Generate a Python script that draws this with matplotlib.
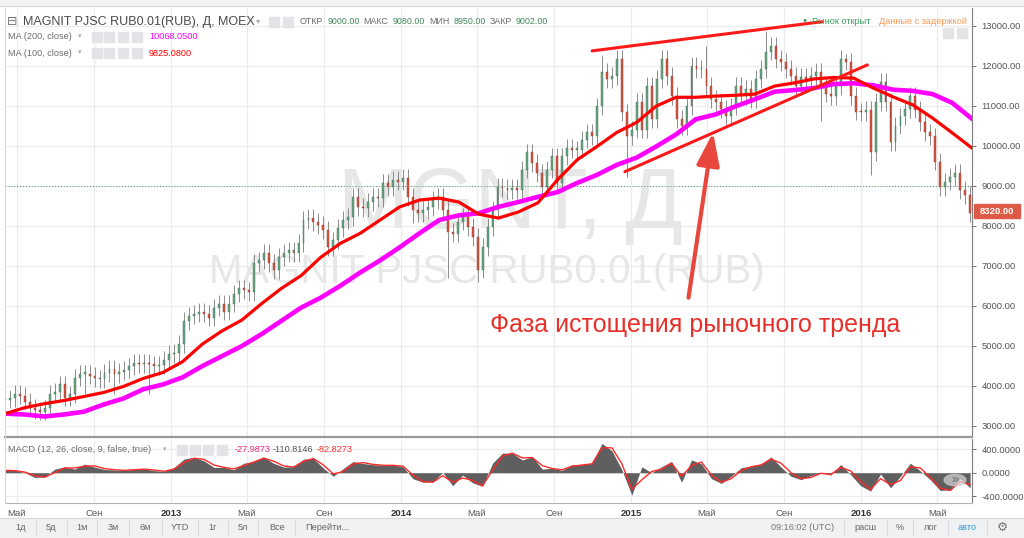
import matplotlib
matplotlib.use('Agg')
import matplotlib.pyplot as plt
import matplotlib.dates as mdates
import pandas as pd
from matplotlib.patches import Rectangle, Circle

plt.rcParams['font.family'] = ['Liberation Sans', 'DejaVu Sans']

# ---- data --------------------------------------------------------------
start, end = '2012-04-12', '2016-06-22'

# closes roughly every 8 days
closes = [3650, 3680, 3800, 3750, 3600, 3450, 3380, 3350, 3430, 3800,
          3850, 4030, 3700, 3780, 4200, 4300, 4300, 4250, 4180, 4160,
          4310, 4410, 4280, 4350, 4400, 4480, 4560, 4530, 4560, 4530,
          4490, 4520, 4650, 4790, 4810, 5040, 5620, 5750, 5800, 5850,
          5800, 5700, 5950, 6050, 5850, 6050, 6300, 6430, 6380, 6330,
          7060, 7130, 7310, 7060, 6880, 7210, 7310, 7380, 7310, 7560,
          8140, 8190, 8090, 8010, 7890, 7460, 7630, 7940, 8140, 8210,
          8720, 8470, 8440, 8590, 8720, 8690, 9070, 8970, 9150, 9100,
          9200, 8720, 8390, 8310, 8390, 8470, 8640, 8720, 8390, 7850,
          7800, 8100, 8210, 7960, 7710, 6900, 7460, 7960, 8390, 8970,
          8940, 8890, 8940, 8890, 9400, 9830, 9570, 9320, 8970, 9400,
          9730, 9070, 9730, 9950, 9900, 9900, 10150, 10330, 10230, 10980,
          11840, 11670, 11740, 12170, 10830, 10230, 10400, 11090, 10400, 11500,
          10660, 11670, 12170, 11740, 11240, 10660, 10480, 10980, 11990, 11920,
          11920, 11490, 11160, 11090, 10910, 10730, 10980, 11490, 11240, 11410,
          11160, 11670, 11920, 12350, 12500, 12170, 12090, 11920, 11740, 11490,
          11710, 11670, 11740, 11840, 11490, 11300, 11240, 11490, 12170, 12100,
          11240, 10850, 10830, 10900, 9830, 11090, 11590, 11090, 10080, 10500,
          10730, 10910, 11240, 10900, 10580, 10330, 10230, 9600, 8970, 9100,
          9220, 9320, 8890, 8760, 8320]
spike_low = {16: 3780, 22: 3800, 29: 3800, 82: 8060, 89: 6700, 95: 6600,
             125: 9220, 164: 10610, 174: 9270}
spike_high = {120: 12270, 123: 12380, 141: 12500, 153: 12870, 169: 12300}

ma100 = [3300, 3450, 3550, 3630, 3730, 3830, 3980, 4180, 4330, 4600,
         5040, 5370, 5640, 6050, 6430, 6750, 7210, 7560, 7810, 8140,
         8470, 8640, 8690, 8590, 8290, 8190, 8340, 8570, 9150, 9650,
         9980, 10330, 10580, 10990, 11210, 11210, 11240, 11260, 11290, 11490,
         11570, 11670, 11705, 11690, 11440, 11220, 11020, 10690, 10320, 9940]
ma200 = [3300, 3280, 3230, 3280, 3350, 3530, 3680, 3910, 4030, 4210,
         4490, 4740, 4990, 5290, 5620, 5950, 6200, 6500, 6830, 7130,
         7460, 7810, 8140, 8260, 8310, 8470, 8590, 8720, 8840, 9070,
         9270, 9520, 9700, 9980, 10280, 10660, 10780, 10980, 11160, 11350,
         11390, 11440, 11540, 11560, 11510, 11400, 11370, 11290, 11070, 10670]

macd = [40, 40, 0, -80, -70, 60, 100, 60, 145, 95,
        55, 45, 40, 60, 65, 35, 22, 90, 230, 260,
        200, 90, 90, 50, 160, 190, 265, 160, 95, 100,
        228, 240, 78, -60, 70, 190, 155, 135, 125, 130,
        100, -100, -160, -150, 5, -220, -40, -170, -230, 160,
        330, 330, 215, 270, 60, 78, 40, 135, 135, 160,
        495, 370, 50, -380, 100, 0, 100, 190, -160, 215,
        150, -100, -180, -60, 85, 110, 150, 265, 95, -60,
        -117, -50, 0, -40, 140, -33, -220, -310, -20, -255,
        -60, 160, 30, -117, -300, -285, -100, -255]
signal = [40, 35, 10, -50, -75, 0, 80, 80, 110, 115,
          70, 50, 40, 50, 60, 45, 25, 60, 170, 245,
          225, 130, 90, 65, 120, 180, 245, 195, 115, 95,
          190, 240, 130, -20, 20, 150, 170, 140, 125, 125,
          110, -40, -150, -160, -50, -160, -90, -130, -220, 40,
          280, 330, 250, 255, 120, 70, 50, 110, 130, 150,
          420, 420, 150, -280, -120, 20, 60, 160, -60, 120,
          180, -40, -160, -100, 40, 100, 130, 230, 160, 0,
          -100, -80, -10, -30, 90, 30, -150, -280, -100, -200,
          -130, 100, 80, -80, -260, -300, -150, -200]

price_ticks = [3000, 4000, 5000, 6000, 7000, 8000, 9000, 10000, 11000, 12000, 13000]
macd_ticks = [-400, 0, 400]
date_ticks = ['2012-05-01', '2012-09-01', '2013-01-01', '2013-05-01', '2013-09-01',
              '2014-01-01', '2014-05-01', '2014-09-01', '2015-01-01', '2015-05-01',
              '2015-09-01', '2016-01-01', '2016-05-01']
date_labels = ['Май', 'Сен', '2013', 'Май', 'Сен', '2014', 'Май', 'Сен',
               '2015', 'Май', 'Сен', '2016', 'Май']

ohlc_labels = ['ОТКР', 'МАКС', 'МИН', 'ЗАКР']
ohlc_values = ['9000.00', '9080.00', '8950.00', '9002.00']

# drawn trend lines (date, price)
upper_line = [('2014-10-31', 12370), ('2015-10-31', 13100)]
lower_line = [('2014-12-22', 9350), ('2016-01-11', 12020)]
arrow_tail = ('2015-04-02', 6200)
arrow_head = ('2015-05-11', 10330)
note_pos = ('2015-04-13', 5340)
note = 'Фаза истощения рыночного тренда'
last_price = 8320

# ---- figure -------------------------------------------------------------
W, H = 1024, 538
fig = plt.figure(figsize=(W / 100, H / 100), dpi=100)
renderer = fig.canvas.get_renderer()


def fx(x):
    return x / W


def fy(y):
    return 1 - y / H


ax = fig.add_axes([fx(5), fy(437), fx(972) - fx(5), (437 - 8) / H])
ax2 = fig.add_axes([fx(5), fy(503), fx(972) - fx(5), (503 - 439) / H], sharex=ax)

c_dates = mdates.date2num(pd.date_range(start, end, periods=len(closes)))
ma_dates = pd.date_range(start, '2016-06-25', periods=len(ma100))
m_dates = pd.date_range(start, end, periods=len(macd))

# watermark
ax.text(fx(510), fy(228), 'MGNT, Д', transform=fig.transFigure, fontsize=61,
        color='#e7e7e7', ha='center', va='baseline', zorder=1)
ax.text(fx(487), fy(283), 'MAGNIT PJSC RUB0.01(RUB)', transform=fig.transFigure,
        fontsize=29, color='#e7e7e7', ha='center', va='baseline', zorder=1)

# candles
opens = [closes[0]] + closes[:-1]
step = c_dates[1] - c_dates[0]
wick_pad = 220
bottoms, heights, fills, edges, lows, highs = [], [], [], [], [], []
for i, (o, c) in enumerate(zip(opens, closes)):
    up = c >= o
    bottoms.append(min(o, c))
    heights.append(max(abs(c - o), 30))
    fills.append('#6ba583' if up else '#d75442')
    edges.append('#3d6e52' if up else '#8a3a2c')
    lows.append(spike_low.get(i, min(o, c) - wick_pad))
    highs.append(spike_high.get(i, max(o, c) + wick_pad))
ax.vlines(c_dates, lows, highs, color='#7a7a7c', lw=0.6, zorder=2)
ax.bar(c_dates, heights, bottom=bottoms, width=step * 0.38, color=fills,
       edgecolor=edges, linewidth=0.3, zorder=3)

ax.axhline(9000, color='#3c9a5f', lw=0.7, ls=(0, (1, 2)), zorder=2)

ax.plot(ma_dates, ma200, color='#ff00ff', lw=3.3, zorder=4, solid_capstyle='round')
ax.plot(ma_dates, ma100, color='#ff0000', lw=2.3, zorder=5, solid_capstyle='round')

for line in (upper_line, lower_line):
    ax.plot([pd.Timestamp(d) for d, _ in line], [p for _, p in line],
            color='#ff1a1a', lw=2.2, zorder=6, solid_capstyle='round')

ax.annotate('', xy=(pd.Timestamp(arrow_head[0]), arrow_head[1]),
            xytext=(pd.Timestamp(arrow_tail[0]), arrow_tail[1]),
            arrowprops=dict(arrowstyle='-|>,head_length=1.0,head_width=0.35',
                            mutation_scale=20, lw=3, color='#e8473d',
                            shrinkA=0, shrinkB=0), zorder=7)
ax.text(pd.Timestamp(note_pos[0]), note_pos[1], note, color='#e8302a',
        fontsize=18, ha='center', va='baseline', zorder=7)

# axes styling
xmin = mdates.date2num(pd.Timestamp(start))
xmax = mdates.date2num(pd.Timestamp('2016-06-25'))
ax.set_xlim(xmin, xmax)
ax.set_ylim(2717, 13442)
ax.set_yticks(price_ticks)
ax.set_yticklabels([f'{v:.2f}' for v in price_ticks])
ax.yaxis.tick_right()
ax.tick_params(axis='y', direction='out', length=3, pad=4, labelsize=6.8,
               colors='#555555', width=0.6)
ax.set_xticks(mdates.date2num(pd.to_datetime(date_ticks)))
ax.tick_params(axis='x', length=0, labelbottom=False)
ax.grid(True, color='#ebebeb', lw=0.8, zorder=0)
ax.set_axisbelow(True)
for s in ('top', 'left'):
    ax.spines[s].set_visible(False)
ax.spines['right'].set_color('#7d7d7d')
ax.spines['bottom'].set_color('#9a9a9a')
ax.spines['bottom'].set_linewidth(1.6)

# last price tag
fig.patches.append(Rectangle((fx(974), fy(218)), 46 / W, 14 / H,
                             transform=fig.transFigure, color='#dd5a47', zorder=5))
fig.text(fx(997), fy(211), f'{last_price:.2f}', fontsize=6.8, color='white',
         ha='center', va='center', fontweight='bold', zorder=6)

# MACD panel
ax2.fill_between(m_dates, 0, macd, color='#5f5f5f', lw=0, zorder=2)
ax2.plot(m_dates, signal, color='#ff2a2a', lw=1.0, zorder=3)
ax2.set_ylim(-511, 569)
ax2.set_yticks(macd_ticks)
ax2.set_yticklabels([f'{v:.4f}' for v in macd_ticks])
ax2.yaxis.tick_right()
ax2.tick_params(axis='y', direction='out', length=3, pad=4, labelsize=6.8,
                colors='#555555', width=0.6)
ax2.set_xticks(mdates.date2num(pd.to_datetime(date_ticks)))
ax2.set_xticklabels(date_labels)
ax2.tick_params(axis='x', length=0, pad=4, labelsize=6.8, colors='#555555')
for lab in ax2.get_xticklabels():
    if lab.get_text().isdigit():
        lab.set_fontweight('bold')
        lab.set_color('#333333')
ax2.grid(True, color='#ebebeb', lw=0.8, zorder=0)
ax2.set_axisbelow(True)
ax2.spines['top'].set_visible(False)
ax2.spines['left'].set_visible(False)
ax2.spines['right'].set_color('#7d7d7d')
ax2.spines['bottom'].set_color('#b5b5b5')
ax2.add_patch(Circle((fx(955), fy(480)), 11 / W, transform=fig.transFigure,
                     facecolor='#d8d8d8', edgecolor='#c4c4c4', alpha=0.7, zorder=6))
ax2.text(fx(955), fy(480), '»', transform=fig.transFigure, fontsize=9,
         color='#666666', ha='center', va='center', zorder=7)

# left border and top strip
fig.add_artist(plt.Line2D([fx(5), fx(5)], [fy(8), fy(503)], color='#d9d9d9', lw=0.8))
fig.patches.append(Rectangle((0, fy(6)), 1, 6 / H, transform=fig.transFigure,
                             color='#f3f3f3', zorder=0))
fig.add_artist(plt.Line2D([0, 1], [fy(6), fy(6)], color='#dadada', lw=0.8))


def icon(x, y, w=10, h=10, color='#e2e4e8'):
    fig.patches.append(Rectangle((fx(x), fy(y + h)), w / W, h / H,
                                 transform=fig.transFigure, color=color, zorder=4))


# header
fig.text(fx(7), fy(22), '⊟', fontsize=9, color='#777777', va='center')
fig.text(fx(23), fy(22), 'MAGNIT PJSC RUB0.01(RUB), Д, MOEX', fontsize=9,
         color='#4a4a4a', va='center')
fig.text(fx(256), fy(22), '▾', fontsize=6, color='#aaaaaa', va='center')
icon(269, 17)
icon(283, 17)
cur = 300
for lab, val in zip(ohlc_labels, ohlc_values):
    for s, col in ((lab, '#6b6b6b'), (val, '#43895a')):
        t = fig.text(fx(cur), fy(22), s, fontsize=6.4, color=col, va='center')
        cur += t.get_window_extent(renderer).width + 4

for y, name, val, col in [(37, 'MA (200, close)', '10068.0500', '#ff00ff'),
                          (53, 'MA (100, close)', '9825.0800', '#ff0000')]:
    fig.text(fx(8), fy(y), name, fontsize=6.6, color='#6b6b6b', va='center')
    fig.text(fx(78), fy(y), '▾', fontsize=5, color='#aaaaaa', va='center')
    for ix in (92, 104, 118, 132):
        icon(ix, y - 5)
    fig.text(fx(149), fy(y), val, fontsize=6.6, color=col, va='center')

fig.text(fx(805), fy(21), '●', fontsize=5, color='#3b9c5d', va='center', ha='center')
fig.text(fx(812), fy(21), 'Рынок открыт', fontsize=6.6, color='#3b9c5d', va='center')
fig.text(fx(967), fy(21), 'Данные с задержкой', fontsize=6.6, color='#f79a55',
         va='center', ha='right')
icon(943, 28, color='#e4e4e4')
icon(957, 28, color='#e4e4e4')

# MACD header
fig.text(fx(8), fy(450), 'MACD (12, 26, close, 9, false, true)', fontsize=6.6,
         color='#6b6b6b', va='center')
fig.text(fx(163), fy(450), '▾', fontsize=5, color='#aaaaaa', va='center')
for ix in (177, 190, 203, 217):
    icon(ix, 445)
fig.text(fx(235), fy(450), '-27.9873', fontsize=6.6, color='#f0287a', va='center')
fig.text(fx(273), fy(450), '-110.8146', fontsize=6.6, color='#555555', va='center')
fig.text(fx(317), fy(450), '-82.8273', fontsize=6.6, color='#ff3333', va='center')

# bottom toolbar
fig.patches.append(Rectangle((0, 0), 1, fy(518), transform=fig.transFigure,
                             color='#f0f1f3', zorder=0))
fig.add_artist(plt.Line2D([0, 1], [fy(518), fy(518)], color='#d8dadf', lw=0.8))
left_buttons = [('1д', 21), ('5д', 51), ('1м', 82), ('3м', 113), ('6м', 145),
                ('YTD', 180), ('1г', 213), ('5л', 243), ('Все', 277),
                ('Перейти...', 327)]
for lab, bx in left_buttons:
    fig.text(fx(bx), fy(527), lab, fontsize=6.6, color='#666666',
             ha='center', va='center')
for sx in (36, 67, 97, 129, 162, 198, 228, 258, 295, 844, 887, 913, 948, 987):
    fig.add_artist(plt.Line2D([fx(sx), fx(sx)], [fy(521), fy(534)],
                              color='#d6d8dc', lw=0.8))
right_buttons = [('09:16:02 (UTC)', 803, '#777777'), ('расш', 865, '#666666'),
                 ('%', 900, '#666666'), ('лог', 931, '#666666'),
                 ('авто', 967, '#2a9ae0')]
for lab, bx, col in right_buttons:
    fig.text(fx(bx), fy(527), lab, fontsize=6.6, color=col, ha='center', va='center')
fig.text(fx(1002), fy(527), '⚙', fontsize=9, color='#777777', ha='center',
         va='center', family=['DejaVu Sans'])

fig.savefig('out.png', dpi=100)
